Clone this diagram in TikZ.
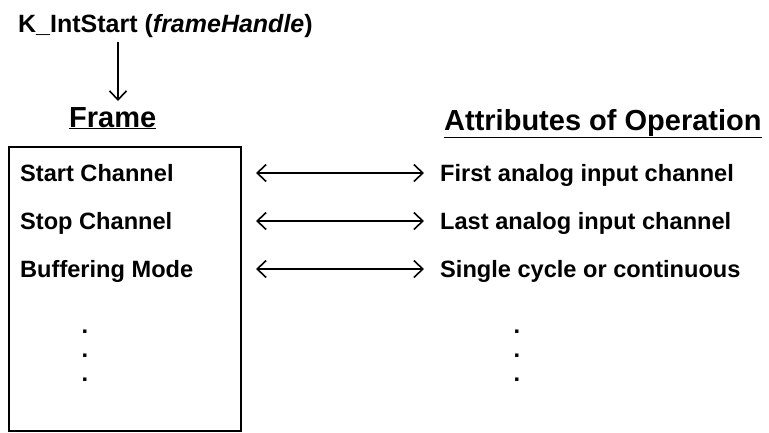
\documentclass[tikz,border=0pt]{standalone}
\usepackage{fontspec}
\setmainfont{Liberation Sans}
\usetikzlibrary{arrows.meta}
\tikzset{
  txt/.style={font=\bfseries\fontsize{23.6}{28}\selectfont,inner sep=0pt,anchor=base west},
  head/.style={font=\bfseries\fontsize{29}{33}\selectfont,inner sep=0pt,anchor=base west},
  barb/.tip={Straight Barb[length=9pt,width=17pt,line width=1.6pt]},
  link/.style={barb-barb,line width=1.3pt},
}
\begin{document}
\begin{tikzpicture}[x=1pt,y=-1pt]
\useasboundingbox (0,0) rectangle (769,432);
% call and headings
\node[txt,font=\bfseries\fontsize{25}{29}\selectfont] (call) at (18,32) {K\_IntStart (\textit{frameHandle})};
\node[head] (frame) at (69,127) {\underline{Frame}};
\node[head] (attr) at (444,130) {\underline{Attributes of Operation}};
\coordinate (callbot) at (118,42);
\coordinate (frametop) at (118,101);
\draw[-barb,line width=1.3pt] (callbot) -- (frametop);
% the frame
\draw[line width=1.2pt] (9,147) rectangle (241,431);
% fields and what they set
\node[txt] (start) at (20,181) {Start Channel};
\node[txt] (stop) at (20,229) {Stop Channel};
\node[txt] (buf) at (20,277) {Buffering Mode};
\node[txt] (first) at (440,181) {First analog input channel};
\node[txt] (last) at (440,229) {Last analog input channel};
\node[txt] (cycle) at (440,277) {Single cycle or continuous};
\coordinate (l1) at (256,173); \coordinate (r1) at (424,173);
\coordinate (l2) at (256,221); \coordinate (r2) at (424,221);
\coordinate (l3) at (256,269); \coordinate (r3) at (424,269);
\draw[link] (l1) -- (r1);
\draw[link] (l2) -- (r2);
\draw[link] (l3) -- (r3);
% dots
\foreach \y/\n in {333/1,357/2,381/3}{
  \node[txt,anchor=base] (ldot\n) at (85,\y) {.};
  \node[txt,anchor=base] (rdot\n) at (517,\y) {.};
}
\end{tikzpicture}
\end{document}
